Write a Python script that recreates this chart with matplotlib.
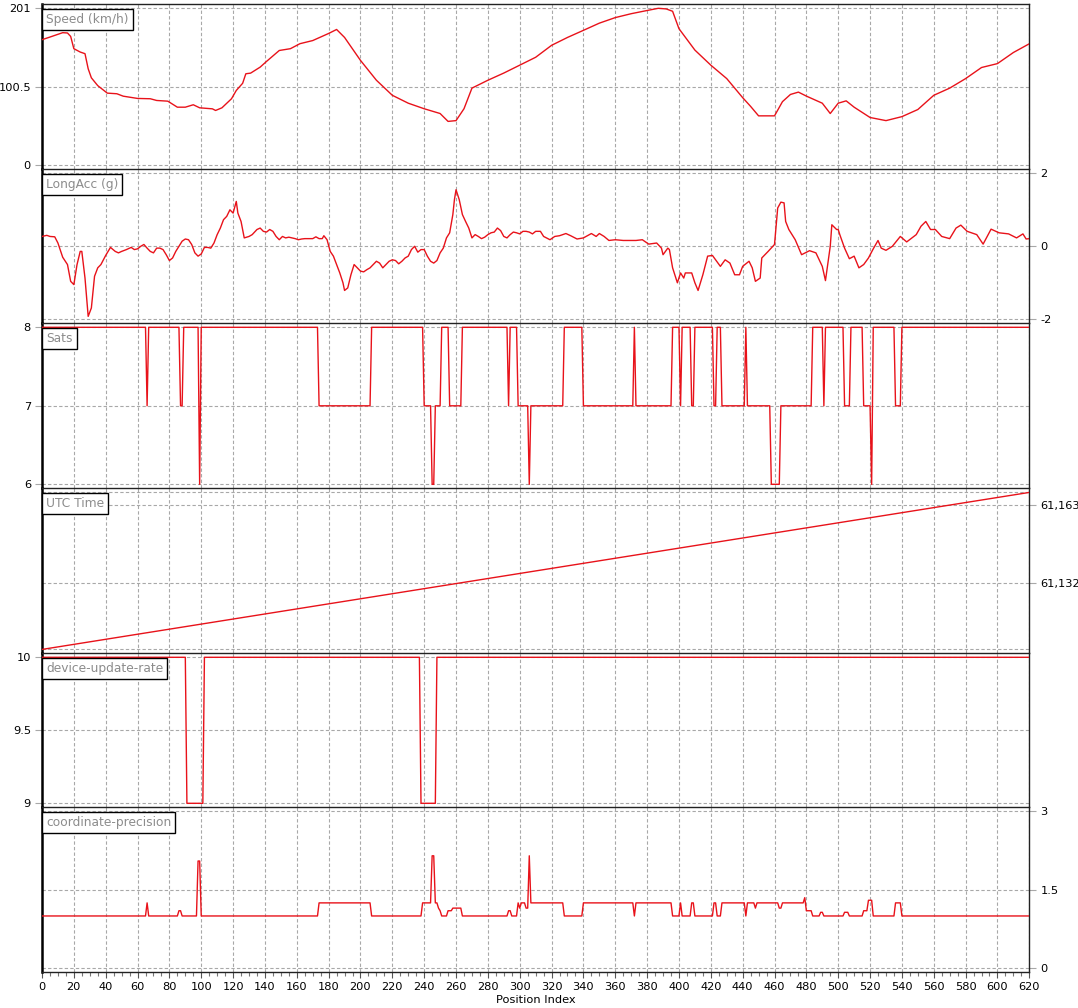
import numpy as np
import matplotlib
matplotlib.use("Agg")
from matplotlib import pyplot as plt
from matplotlib.ticker import MultipleLocator

# position index runs 0..620
n_points = 621

# (position index, km/h)
speed_points = [(0, 160.8), (5, 164.2), (13, 169.8), (16, 169.4), (18, 165), (20, 149.3),
    (24, 145), (27, 142.9), (29, 123.6), (31, 112), (35, 102), (41, 92.4), (47, 91.6),
    (51, 88.5), (60, 85.6), (68, 85.2), (72, 83), (79, 82.1), (85, 74.4), (90, 74.4),
    (95, 77.5), (99, 73.6), (107, 72.3), (109, 70.2), (113, 73.6), (119, 85.2),
    (122, 95.8), (126, 105), (128, 117.2), (131, 118), (137, 125.7), (141, 133),
    (149, 147), (156, 149.3), (162, 155.7), (170, 159.7), (180, 168.8), (185, 173.9),
    (190, 163.7), (200, 134.3), (210, 108.9), (220, 89.6), (230, 79.5), (240, 72.4),
    (250, 66.3), (255, 56.2), (260, 57.2), (265, 72.4), (270, 98.8), (280, 108.9),
    (290, 118.1), (300, 128.2), (310, 138.3), (320, 153.6), (330, 163.7), (340, 172.8),
    (350, 182), (360, 189.1), (370, 194.1), (380, 198.2), (387, 201), (392, 200.2),
    (396, 197.2), (400, 174.9), (410, 147.5), (420, 128.2), (430, 111), (440, 86.6),
    (445, 75.4), (450, 63.3), (460, 63.3), (465, 81.5), (470, 90.7), (475, 93.7),
    (480, 88.6), (490, 79.5), (495, 66.3), (500, 79.5), (505, 82.5), (510, 74.4),
    (520, 61.2), (530, 57.2), (540, 62.3), (550, 71.4), (560, 89.6), (570, 98.8),
    (580, 111), (590, 125.2), (600, 130.2), (610, 144.4), (620, 155.6)]

# (position index, g)
long_acc_points = [(0, 0.27), (3, 0.30), (5, 0.27), (8, 0.26), (10, 0.09), (13, -0.30),
    (16, -0.50), (18, -0.96), (20, -1.05), (22, -0.50), (24, -0.14), (25, -0.14),
    (27, -0.87), (29, -1.92), (31, -1.69), (33, -0.82), (35, -0.59), (37, -0.50),
    (40, -0.25), (43, -0.03), (46, -0.14), (48, -0.18), (50, -0.14), (53, -0.09),
    (56, -0.03), (58, -0.09), (60, -0.07), (62, 0.0), (64, 0.05), (66, -0.05),
    (68, -0.14), (70, -0.18), (72, -0.05), (74, -0.05), (76, -0.09), (78, -0.23),
    (80, -0.39), (82, -0.32), (84, -0.14), (86, 0.0), (88, 0.14), (90, 0.20),
    (92, 0.18), (94, 0.05), (96, -0.18), (98, -0.27), (100, -0.21), (102, -0.03),
    (104, -0.03), (106, -0.05), (108, 0.09), (110, 0.32), (112, 0.50), (114, 0.73),
    (116, 0.82), (118, 1.00), (120, 0.91), (122, 1.23), (123, 0.91), (125, 0.68),
    (127, 0.23), (130, 0.27), (132, 0.32), (135, 0.46), (137, 0.50), (139, 0.41),
    (141, 0.39), (143, 0.46), (145, 0.41), (147, 0.27), (149, 0.18), (151, 0.27),
    (153, 0.23), (155, 0.25), (157, 0.23), (159, 0.21), (161, 0.18), (163, 0.20),
    (165, 0.21), (167, 0.21), (170, 0.21), (172, 0.26), (174, 0.21), (176, 0.21),
    (177, 0.29), (179, 0.18), (181, -0.14), (183, -0.27), (185, -0.50), (187, -0.73),
    (189, -1.00), (190, -1.21), (192, -1.14), (194, -0.78), (196, -0.50), (198, -0.59),
    (200, -0.68), (202, -0.70), (204, -0.64), (206, -0.59), (208, -0.50), (210, -0.41),
    (212, -0.46), (214, -0.59), (216, -0.50), (218, -0.41), (220, -0.37), (222, -0.39),
    (224, -0.48), (226, -0.41), (228, -0.32), (230, -0.27), (232, -0.09), (234, 0.0),
    (236, -0.16), (238, -0.09), (240, -0.09), (242, -0.27), (244, -0.41), (246, -0.46),
    (248, -0.39), (250, -0.18), (252, -0.05), (254, 0.23), (256, 0.37), (258, 0.87),
    (259, 1.28), (260, 1.55), (262, 1.28), (264, 0.87), (266, 0.68), (268, 0.50),
    (270, 0.23), (272, 0.32), (274, 0.27), (276, 0.21), (278, 0.25), (280, 0.32),
    (282, 0.37), (284, 0.39), (286, 0.50), (288, 0.43), (290, 0.27), (292, 0.23),
    (294, 0.32), (296, 0.39), (298, 0.37), (300, 0.34), (302, 0.41), (304, 0.41),
    (306, 0.39), (308, 0.34), (310, 0.41), (313, 0.41), (315, 0.27), (319, 0.18),
    (322, 0.27), (325, 0.29), (329, 0.35), (332, 0.29), (336, 0.20), (340, 0.23),
    (345, 0.35), (348, 0.27), (350, 0.35), (353, 0.27), (356, 0.16), (360, 0.18),
    (365, 0.16), (369, 0.16), (373, 0.16), (377, 0.18), (381, 0.06), (386, 0.09),
    (389, -0.05), (390, -0.23), (393, -0.05), (394, -0.09), (396, -0.59), (399, -1.00),
    (401, -0.73), (403, -0.87), (404, -0.73), (408, -0.73), (410, -1.00), (412, -1.21),
    (415, -0.78), (418, -0.27), (421, -0.25), (426, -0.55), (429, -0.37), (432, -0.46),
    (435, -0.78), (438, -0.78), (440, -0.55), (444, -0.41), (446, -0.59), (448, -0.96),
    (451, -0.87), (452, -0.32), (456, -0.14), (460, 0.05), (462, 1.05), (464, 1.21),
    (466, 1.19), (467, 0.68), (469, 0.46), (473, 0.18), (477, -0.23), (482, -0.12),
    (486, -0.18), (490, -0.55), (492, -0.94), (494, -0.32), (495, 0.0), (496, 0.59),
    (499, 0.46), (500, 0.46), (501, 0.32), (504, -0.05), (507, -0.34), (510, -0.27),
    (513, -0.59), (516, -0.50), (519, -0.32), (522, -0.07), (525, 0.16), (527, -0.05),
    (530, -0.11), (534, 0.0), (539, 0.27), (543, 0.12), (549, 0.32), (552, 0.55),
    (555, 0.68), (558, 0.46), (561, 0.46), (565, 0.27), (570, 0.21), (574, 0.50),
    (577, 0.58), (581, 0.41), (587, 0.32), (591, 0.06), (596, 0.47), (601, 0.37),
    (607, 0.34), (612, 0.23), (616, 0.34), (618, 0.20), (620, 0.21)]

# (first index, value) - value holds until the next entry
sats_changes = [(0, 8), (66, 7), (67, 8), (87, 7), (89, 8), (99, 6), (100, 8), (174, 7),
    (207, 8), (240, 7), (245, 6), (247, 7), (251, 8), (256, 7), (264, 8), (293, 7),
    (294, 8), (299, 7), (306, 6), (307, 7), (328, 8), (340, 7), (372, 8), (373, 7),
    (396, 8), (401, 7), (402, 8), (408, 7), (410, 8), (422, 7), (424, 8), (427, 7),
    (442, 8), (443, 7), (458, 6), (464, 7), (484, 8), (491, 7), (492, 8), (504, 7),
    (508, 8), (516, 7), (521, 6), (522, 8), (536, 7), (540, 8)]

utc_points = [(0, 61105.6), (310, 61136.8), (620, 61168.0)]

rate_changes = [(0, 10), (91, 9), (102, 10), (238, 9), (248, 10)]

precision_changes = [(0, 1.0), (66, 1.25), (67, 1.0), (86, 1.1), (88, 1.0), (98, 2.05),
    (100, 1.0), (174, 1.25), (207, 1.0), (239, 1.25), (245, 2.15), (247, 1.25),
    (249, 1.15), (250, 1.1), (251, 1.0), (255, 1.1), (258, 1.15), (264, 1.0),
    (293, 1.1), (295, 1.0), (299, 1.25), (300, 1.15), (301, 1.25), (304, 1.15),
    (306, 2.15), (307, 1.25), (328, 1.0), (340, 1.25), (372, 1.0), (373, 1.25),
    (396, 1.0), (401, 1.25), (402, 1.0), (408, 1.25), (410, 1.0), (422, 1.25),
    (424, 1.0), (427, 1.25), (442, 1.0), (443, 1.25), (448, 1.15), (449, 1.25),
    (463, 1.15), (465, 1.25), (479, 1.35), (480, 1.1), (484, 1.0), (489, 1.07),
    (491, 1.0), (504, 1.07), (507, 1.0), (516, 1.1), (519, 1.3), (522, 1.0),
    (536, 1.25), (540, 1.0)]


def steps(changes, n):
    # expand (start, value) runs to one value per position index
    out = np.zeros(n)
    for k, (start, val) in enumerate(changes):
        end = changes[k + 1][0] if k + 1 < len(changes) else n
        out[start:end] = val
    return out


idx = np.arange(n_points)
series = [
    ("Speed (km/h)", [p[0] for p in speed_points], [p[1] for p in speed_points]),
    ("LongAcc (g)", [p[0] for p in long_acc_points], [p[1] for p in long_acc_points]),
    ("Sats", idx, steps(sats_changes, n_points)),
    ("UTC Time", [p[0] for p in utc_points], [p[1] for p in utc_points]),
    ("device-update-rate", idx, steps(rate_changes, n_points)),
    ("coordinate-precision", idx, steps(precision_changes, n_points)),
]

# ticks, labels, y limits (data range + a few px), tick side, panel top/bottom px
yticks = [[0, 100.5, 201], [-2, 0, 2], [6, 7, 8], [61132, 61163], [9, 9.5, 10], [0, 1.5, 3]]
ylabels = [["0", "100.5", "201"], ["-2", "0", "2"], ["6", "7", "8"], ["61,132", "61,163"],
           ["9", "9.5", "10"], ["0", "1.5", "3"]]
ylims = [(-5.13, 206.13), (-2.11, 2.11), (5.949, 8.051), (61104.06, 61169.64),
         (8.9726, 10.0274), (-0.0764, 3.0764)]
sides = ["left", "right", "left", "right", "left", "right"]
panel_px = [(4.3, 169.3), (169.3, 323.3), (323.3, 488.3), (488.3, 653.3),
            (653.3, 807.3), (807.3, 972.3)]

W, H = 1078, 1008
fig = plt.figure(figsize=(W / 100, H / 100), dpi=100)
fig.patch.set_facecolor("white")

grid_kw = dict(color="#a8a8a8", linestyle=(0, (3, 2)), linewidth=0.8)
line_color = "#e8121a"

axes = []
for i, (name, xs, ys) in enumerate(series):
    top, bot = panel_px[i]
    ax = fig.add_axes([42 / W, 1 - bot / H, (1029.3 - 42) / W, (bot - top) / H])
    axes.append(ax)
    ax.plot(xs, ys, color=line_color, linewidth=1.0, zorder=3)
    ax.set_xlim(0, 620)
    ax.set_ylim(*ylims[i])
    ax.set_xticks(range(0, 621, 20))
    ax.grid(axis="x", **grid_kw)
    for t in yticks[i]:
        ax.axhline(t, zorder=1, **grid_kw)
    if name == "UTC Time":
        ax.axhline(min(ys), zorder=1, **grid_kw)
        ax.axhline(max(ys), zorder=1, **grid_kw)

    ax.set_yticks(yticks[i])
    ax.set_yticklabels(ylabels[i])
    if sides[i] == "right":
        ax.yaxis.tick_right()
    ax.tick_params(axis="y", length=5, width=0.8, color="#a8a8a8", pad=3,
                   labelsize=8.2, labelcolor="black")

    for s in ["top", "right", "left", "bottom"]:
        ax.spines[s].set_color("#222222")
        ax.spines[s].set_linewidth(1.0)
    ax.spines["left"].set_linewidth(1.8)
    ax.spines["left"].set_color("black")
    ax.spines["bottom"].set_visible(i == len(series) - 1)

    # name box in the top left corner
    ax.annotate(name, xy=(0, 1), xycoords="axes fraction", xytext=(3.0, -6.2),
                textcoords="offset points", ha="left", va="top", fontsize=8.8,
                color="#8c8c8c", zorder=5,
                bbox=dict(boxstyle="square,pad=0.32", fc="white", ec="black", lw=1.0))

    if i < len(series) - 1:
        ax.tick_params(axis="x", length=0, labelbottom=False)

# bottom axis
ax = axes[-1]
ax.xaxis.set_minor_locator(MultipleLocator(5))
ax.tick_params(axis="x", which="major", length=4, width=0.8, color="#555555",
               labelsize=8.2, pad=3)
ax.tick_params(axis="x", which="minor", length=3, width=0.8, color="#777777")
ax.set_xlabel("Position Index", fontsize=8.2, labelpad=2)

fig.savefig("out.png", dpi=100, facecolor="white")
